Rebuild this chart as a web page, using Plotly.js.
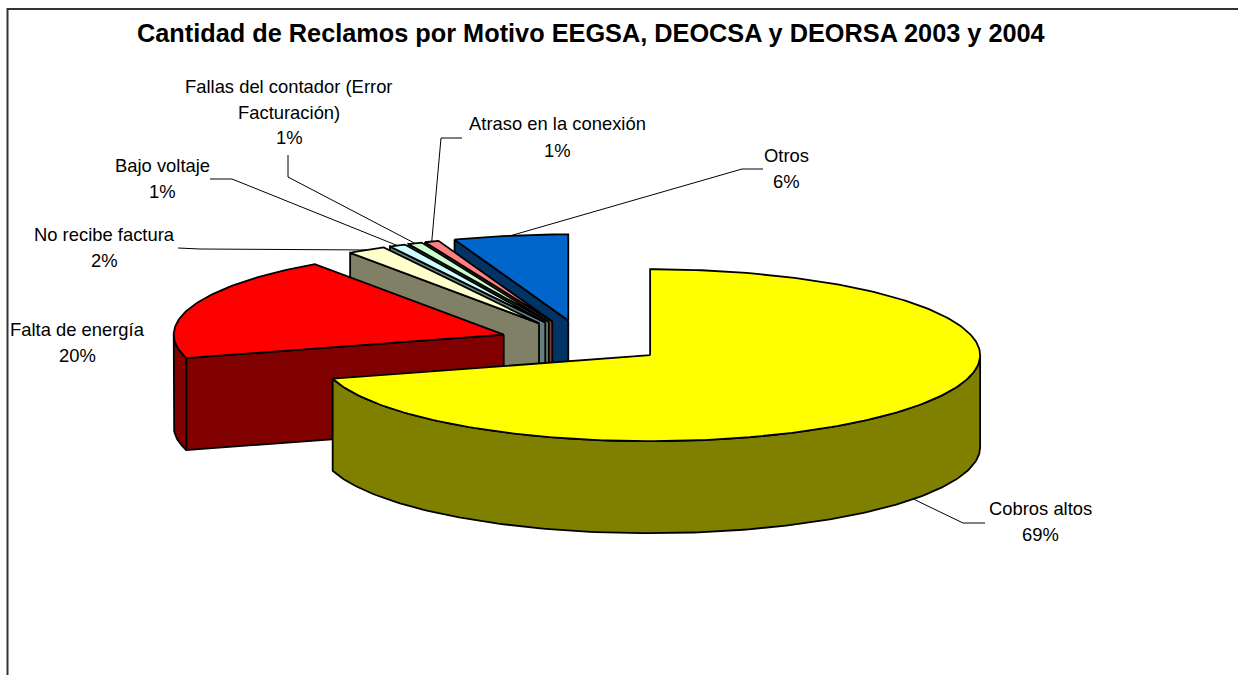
<!DOCTYPE html>
<html><head><meta charset="utf-8"><script src="https://cdn.plot.ly/plotly-3.0.1.min.js"></script>
<style>html,body{margin:0;padding:0;background:#fff}#c{width:1238px;height:675px}</style></head>
<body><div id="c"></div><script>
const categories=["Cobros altos","Falta de energía","No recibe factura","Bajo voltaje","Fallas del contador (Error Facturación)","Atraso en la conexión","Otros"];
const shares=[70.6,19.7,1.9,0.8,0.7,0.7,5.6];
const percentLabels=["69%","20%","2%","1%","1%","1%","6%"];
const topColors=["#FFFF00","#FF0000","#FFFFCC","#CCFFFF","#CCFFCC","#FF8080","#0066CC"];
const sideColors=["#808000","#800000","#808066","#668080","#668066","#804040","#003366"];
const titleText="Cantidad de Reclamos por Motivo EEGSA, DEOCSA y DEORSA 2003 y 2004";

const labelLines=[
 [["Cobros altos",1040,508],["69%",1040,534]],
 [["Falta de energía",77,329],["20%",77,355]],
 [["No recibe factura",104,234],["2%",104,260]],
 [["Bajo voltaje",162,165],["1%",162,191]],
 [["Fallas del contador (Error",289,86],["Facturación)",289,112],["1%",289,137]],
 [["Atraso en la conexión",557,123],["1%",557,150]],
 [["Otros",786,155],["6%",786,181]]
];
const leaderMid=[[[963,523],[985,523]],null,[[200,249],[178,248]],[[232,179],[210,179]],[[288,177],[288,155]],[[441,138],[462,138]],[[742,169],[763,169]]];

const cx0=583,cy0=342,rx=330,ry=86,depth=92,explode=0.255;
const rad=d=>d*Math.PI/180;
let acc=0;
const slices=shares.map((s,i)=>{const a=acc*3.6;acc+=s;const b=acc*3.6;const m=(a+b)/2;
 return {i,a,b,m,cx:cx0+explode*rx*Math.sin(rad(m)),cy:cy0-explode*ry*Math.cos(rad(m))};});
const pt=(s,t,dz=0)=>[s.cx+rx*Math.sin(rad(t)),s.cy-ry*Math.cos(rad(t))+dz];
function arc(s,from,to,dz=0){const n=Math.max(2,Math.ceil(Math.abs(to-from)));const o=[];for(let k=0;k<=n;k++)o.push(pt(s,from+(to-from)*k/n,dz));return o;}
function poly(points,fill){const xs=points.map(p=>p[0]).concat(points[0][0]),ys=points.map(p=>p[1]).concat(points[0][1]);
 return {type:"scatter",mode:"lines",x:xs,y:ys,fill:"toself",fillcolor:fill,line:{color:"#000",width:1.8,shape:"linear"},hoverinfo:"skip",showlegend:false};}
const traces=[];
[6,5,4,3,2,1,0].forEach(i=>{const s=slices[i];const side=sideColors[i];
 if(s.a>180&&s.a<360){const e=pt(s,s.a);traces.push(poly([[s.cx,s.cy],e,[e[0],e[1]+depth],[s.cx,s.cy+depth]],side));}
 const lo=Math.max(s.a,90),hi=Math.min(s.b,270);
 if(hi>lo){traces.push(poly(arc(s,lo,hi).concat(arc(s,hi,lo,depth)),side));}
 traces.push(poly([[s.cx,s.cy]].concat(arc(s,s.a,s.b)),topColors[i]));
});
slices.forEach((s,i)=>{const mid=leaderMid[i];if(!mid)return;const p=pt(s,s.m,i===0?depth:0);const pts=[p].concat(mid);
 traces.push({type:"scatter",mode:"lines",x:pts.map(q=>q[0]),y:pts.map(q=>q[1]),line:{color:"#000",width:1},hoverinfo:"skip",showlegend:false});});

const annotations=[{x:591,y:33,xref:"x",yref:"y",text:"<b>"+titleText+"</b>",showarrow:false,xanchor:"center",yanchor:"middle",font:{family:"Liberation Sans",size:25.3,color:"#000"}}];
labelLines.forEach((ls,i)=>ls.forEach(l=>annotations.push({x:l[1],y:l[2],xref:"x",yref:"y",text:l[0],showarrow:false,xanchor:"center",yanchor:"middle",font:{family:"Liberation Sans",size:18.4,color:"#000"}})));
const ax={visible:false,fixedrange:true,showgrid:false,zeroline:false};
Plotly.newPlot("c",traces,{width:1238,height:675,margin:{l:0,r:0,t:0,b:0},paper_bgcolor:"#fff",plot_bgcolor:"#fff",showlegend:false,
 xaxis:{...ax,range:[0,1238]},yaxis:{...ax,range:[675,0]},annotations,
 shapes:[{type:"path",xref:"x",yref:"y",path:"M7.5,675 L7.5,9 L1238,9",line:{color:"#333",width:2}}]},{displayModeBar:false,staticPlot:true});
</script></body></html>
